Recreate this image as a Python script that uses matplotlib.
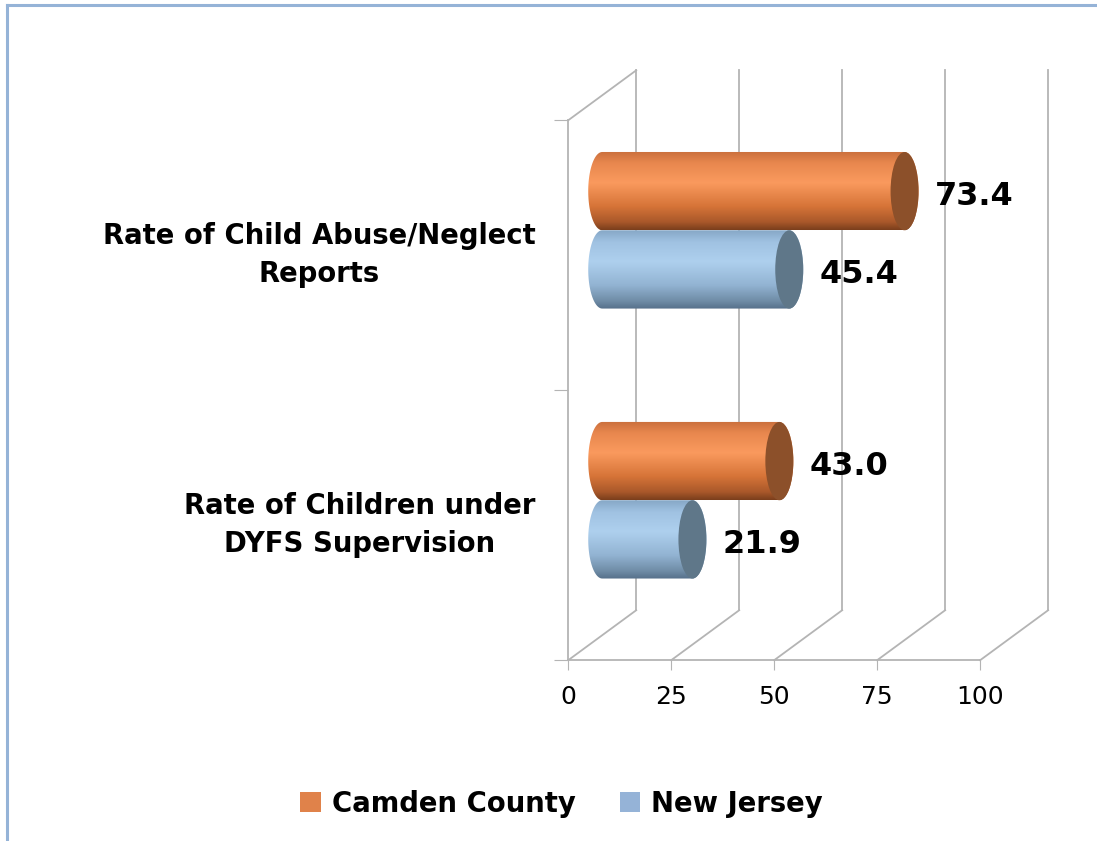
import numpy as np
import matplotlib.pyplot as plt
from matplotlib.path import Path
from matplotlib.patches import Ellipse, Patch
from matplotlib.colors import LinearSegmentedColormap
from matplotlib.lines import Line2D

plt.rcParams['font.family'] = ['DejaVu Sans']

categories = ['Rate of Children under\nDYFS Supervision',
              'Rate of Child Abuse/Neglect\nReports']
series = ['Camden County', 'New Jersey']
camden = [43.0, 73.4]
new_jersey = [21.9, 45.4]
xticks = [0, 25, 50, 75, 100]

# depth of the 3-D box, in data units (x, y)
dx, dy = 16.5, 0.185
bar_h = 0.29
rx = 3.4
grid_c = '#B4B4B4'

orange_stops = [(0.0, '#C96F3C'), (0.15, '#E8874E'), (0.4, '#FA9A5E'),
                (0.7, '#D67438'), (0.9, '#A9582A'), (1.0, '#7A3E1C')]
blue_stops = [(0.0, '#86A7C6'), (0.15, '#A0C2E2'), (0.4, '#AED0EE'),
              (0.7, '#92B3D2'), (0.9, '#6F8CA6'), (1.0, '#56708A')]
cap_colors = ['#8C502A', '#5F7789']
legend_colors = ['#E0824A', '#95B3D7']


def cylinder(ax, x0, x1, yc, h, stops, cap):
    t = np.linspace(np.pi / 2, 3 * np.pi / 2, 60)
    left = np.column_stack([x0 + rx * np.cos(t), yc + h / 2 * np.sin(t)])
    t2 = np.linspace(-np.pi / 2, np.pi / 2, 60)
    right = np.column_stack([x1 + rx * np.cos(t2), yc + h / 2 * np.sin(t2)])
    outline = Path(np.vstack([left, right, left[:1]]), closed=True)
    cmap = LinearSegmentedColormap.from_list('cyl', stops)
    grad = np.linspace(0, 1, 256).reshape(-1, 1)
    im = ax.imshow(grad, cmap=cmap, extent=[x0 - rx, x1 + rx, yc - h / 2, yc + h / 2],
                   origin='upper', aspect='auto', interpolation='bilinear', zorder=3)
    im.set_clip_path(outline, ax.transData)
    ax.add_patch(Ellipse((x1, yc), 2 * rx, h, fc=cap, ec='none', zorder=4))


fig = plt.figure(figsize=(10.97, 8.41), dpi=100)
ax = fig.add_axes([0.518, 0.215, 0.3755, 0.642])

# back wall and floor lines
for t in xticks:
    ax.plot([t, t + dx], [0, dy], color=grid_c, lw=1.3, clip_on=False, zorder=1)
    ax.plot([t + dx, t + dx], [dy, 2 + dy], color=grid_c, lw=1.3, clip_on=False, zorder=1)
ax.plot([0, dx], [2, 2 + dy], color=grid_c, lw=1.3, clip_on=False, zorder=1)

for i, cat in enumerate(categories):
    yc = i + 0.5 + dy / 2
    for j, vals in enumerate([camden, new_jersey]):
        v = vals[i]
        y = yc + bar_h / 2 if j == 0 else yc - bar_h / 2
        stops = orange_stops if j == 0 else blue_stops
        cylinder(ax, dx / 2, v + dx / 2, y, bar_h, stops, cap_colors[j])
        ax.text(v + dx / 2 + rx + 4.0, y - 0.02, f'{v:.1f}', ha='left', va='center',
                fontsize=23, fontweight='bold', zorder=5)
    ax.text(-8, i + 0.5, cat, ha='right', va='center', multialignment='center',
            fontsize=19.8, fontweight='bold', linespacing=1.45)

ax.set_xlim(0, 100)
ax.set_ylim(0, 2)
ax.set_xticks(xticks)
ax.set_xticklabels([str(t) for t in xticks], fontsize=18)
ax.set_yticks([0, 1, 2])
ax.set_yticklabels([])
ax.tick_params(axis='x', direction='out', length=7, color=grid_c, pad=11)
ax.tick_params(axis='y', direction='out', length=10, color=grid_c)
for s in ['top', 'right']:
    ax.spines[s].set_visible(False)
for s in ['left', 'bottom']:
    ax.spines[s].set_color(grid_c)
    ax.spines[s].set_linewidth(1.3)
ax.patch.set_alpha(0)

handles = [Patch(fc=c, ec='none') for c in legend_colors]
fig.legend(handles, series, loc='center', bbox_to_anchor=(0.512, 0.044), ncol=2,
           frameon=False, prop=dict(size=19.8, weight='bold'), handlelength=0.75,
           handleheight=0.75, handletextpad=0.4, columnspacing=1.6)

# slide frame lines on the top and left
fig.add_artist(Line2D([0.0064, 0.0064], [0, 0.994], transform=fig.transFigure,
                      color='#95B3D7', lw=2.2))
fig.add_artist(Line2D([0.0064, 1], [0.994, 0.994], transform=fig.transFigure,
                      color='#95B3D7', lw=2.2))

fig.savefig('out.png', dpi=100)
